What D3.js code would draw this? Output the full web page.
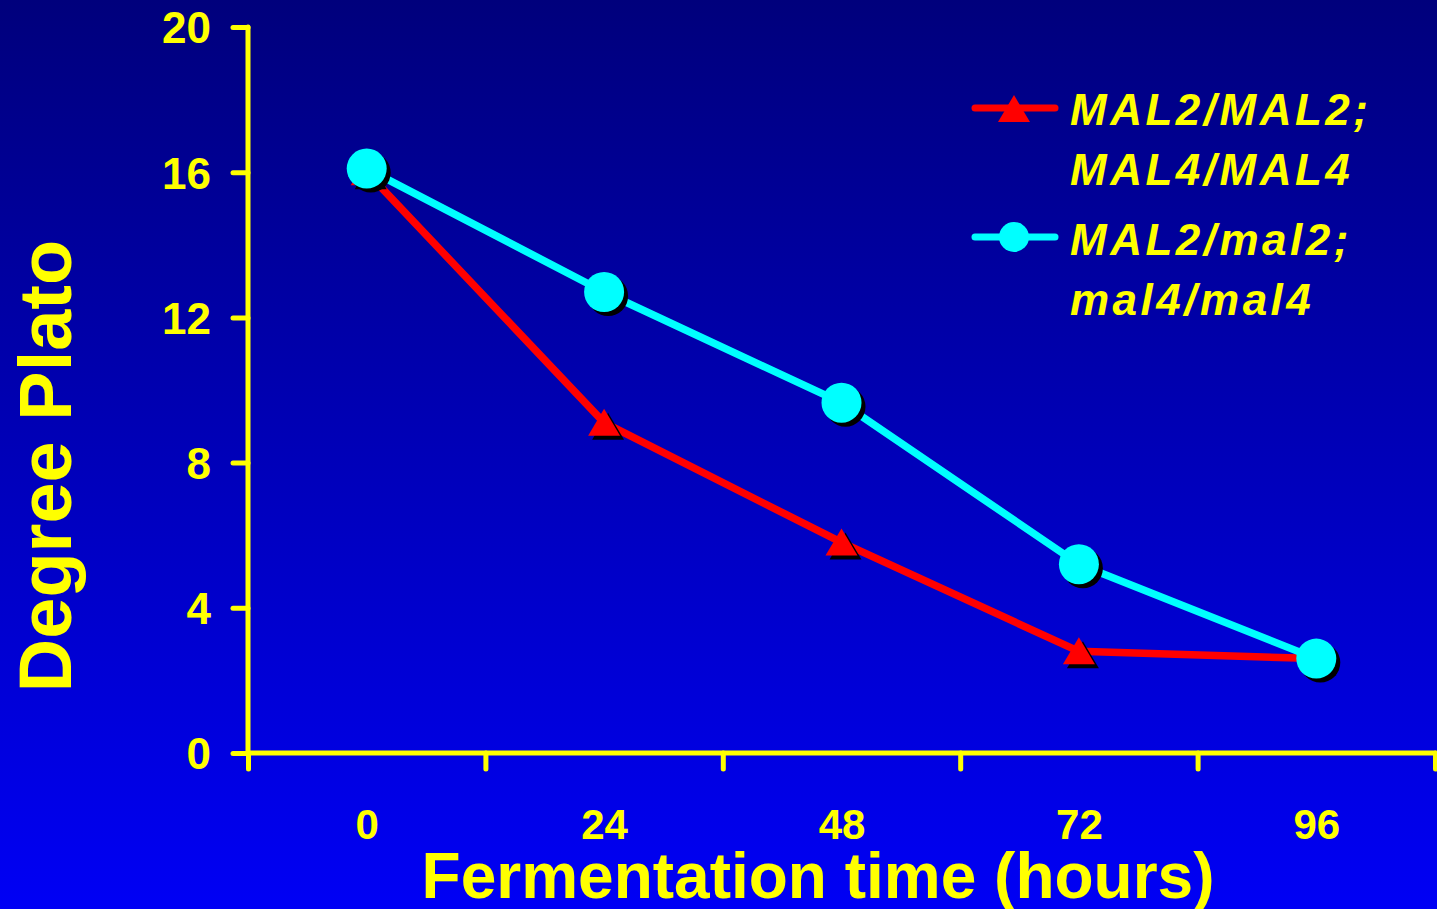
<!DOCTYPE html>
<html>
<head>
<meta charset="utf-8">
<script src="https://cdn.jsdelivr.net/npm/d3@7"></script>
<style>
  body { margin: 0; overflow: hidden; }
  svg { display: block; font-family: "Liberation Sans", Arial, sans-serif; }
</style>
</head>
<body>
<div id="chart"></div>
<script>
// data
const hours = [0, 24, 48, 72, 96];
const homozygous = [16.0, 9.1, 5.8, 2.8, 2.6];   // MAL2/MAL2; MAL4/MAL4
const heterozygous = [16.1, 12.7, 9.65, 5.2, 2.6]; // MAL2/mal2; mal4/mal4
const yTicks = [0, 4, 8, 12, 16, 20];
const xBoundaries = [-12, 12, 36, 60, 84, 108];

const width = 1437, height = 909;
const yellow = '#ffff00';

const svg = d3.select('#chart').append('svg')
    .attr('width', width)
    .attr('height', height);

// background gradient
const grad = svg.append('defs').append('linearGradient')
    .attr('id', 'bg').attr('x1', 0).attr('y1', 0).attr('x2', 0).attr('y2', 1);
grad.append('stop').attr('offset', '0%').attr('stop-color', '#00007c');
grad.append('stop').attr('offset', '100%').attr('stop-color', '#0000f5');
svg.append('rect').attr('width', width).attr('height', height).attr('fill', 'url(#bg)');

const x = d3.scaleLinear().domain([-12, 108]).range([248, 1435]);
const y = d3.scaleLinear().domain([0, 20]).range([753, 27]);

// y axis
const yAxis = svg.append('g')
    .attr('transform', `translate(${x(-12)},0)`)
    .call(d3.axisLeft(y).tickValues(yTicks).tickSize(15).tickPadding(22).tickSizeOuter(0));
yAxis.select('.domain').remove();
yAxis.append('line')
    .attr('y1', y(20)).attr('y2', y(0))
    .attr('stroke', yellow).attr('stroke-width', 5).attr('stroke-linecap', 'round');
yAxis.selectAll('.tick line')
    .attr('stroke', yellow).attr('stroke-width', 5).attr('stroke-linecap', 'round');
yAxis.selectAll('.tick text')
    .attr('fill', yellow)
    .attr('font-size', 44)
    .attr('font-weight', 'bold')
    .attr('font-family', '"Liberation Sans", Arial, sans-serif')
    .attr('dy', '0.36em');

// x axis: tick marks between categories, labels centred on them
const xTickAxis = svg.append('g')
    .attr('transform', `translate(0,${y(0)})`)
    .call(d3.axisBottom(x).tickValues(xBoundaries).tickSize(16).tickFormat('').tickSizeOuter(0));
xTickAxis.select('.domain').remove();
xTickAxis.append('line')
    .attr('x1', x(-12)).attr('x2', x(108))
    .attr('stroke', yellow).attr('stroke-width', 5).attr('stroke-linecap', 'round');
xTickAxis.selectAll('.tick line')
    .attr('stroke', yellow).attr('stroke-width', 5).attr('stroke-linecap', 'round');

const xLabelAxis = svg.append('g')
    .attr('transform', `translate(0,${y(0)})`)
    .call(d3.axisBottom(x).tickValues(hours).tickSize(0).tickPadding(0));
xLabelAxis.select('.domain').remove();
xLabelAxis.selectAll('.tick text')
    .attr('fill', yellow)
    .attr('font-size', 42)
    .attr('font-weight', 'bold')
    .attr('font-family', '"Liberation Sans", Arial, sans-serif')
    .attr('y', 86)
    .attr('dy', 0);

// axis titles
svg.append('text')
    .attr('x', 818).attr('y', 898)
    .attr('text-anchor', 'middle')
    .attr('fill', yellow)
    .attr('font-size', 64)
    .attr('font-weight', 'bold')
    .text('Fermentation time (hours)');

svg.append('text')
    .attr('transform', `translate(71,466) rotate(-90)`)
    .attr('text-anchor', 'middle')
    .attr('fill', yellow)
    .attr('font-size', 74)
    .attr('font-weight', 'bold')
    .text('Degree Plato');

// series
const line = d3.line().x(d => x(d[0])).y(d => y(d[1]));
const triangle = 'M0,-14L16,13L-16,13Z';

function drawSeries(values, color, marker) {
    const pts = hours.map((h, i) => [h, values[i]]);
    const g = svg.append('g');
    g.append('path')
        .datum(pts)
        .attr('d', line)
        .attr('fill', 'none')
        .attr('stroke', color)
        .attr('stroke-width', 7.5)
        .attr('stroke-linejoin', 'round');
    [['#000', 4], [color, 0]].forEach(([fill, off]) => {
        const sel = g.selectAll(null).data(pts);
        if (marker === 'circle') {
            sel.join('circle')
                .attr('cx', d => x(d[0]) + off)
                .attr('cy', d => y(d[1]) + off)
                .attr('r', 20)
                .attr('fill', fill);
        } else {
            sel.join('path')
                .attr('d', triangle)
                .attr('transform', d => `translate(${x(d[0]) + off},${y(d[1]) + off})`)
                .attr('fill', fill);
        }
    });
}

drawSeries(homozygous, '#ff0000', 'triangle');
drawSeries(heterozygous, '#00ffff', 'circle');

// legend
const legendItems = [
    {lines: ['MAL2/MAL2;', 'MAL4/MAL4'], color: '#ff0000', marker: 'triangle', y: 108, base: [125, 185]},
    {lines: ['MAL2/mal2;', 'mal4/mal4'], color: '#00ffff', marker: 'circle', y: 237, base: [255, 315]}
];
const legend = svg.append('g');
legendItems.forEach(item => {
    legend.append('line')
        .attr('x1', 975).attr('x2', 1055)
        .attr('y1', item.y).attr('y2', item.y)
        .attr('stroke', item.color).attr('stroke-width', 7).attr('stroke-linecap', 'round');
    if (item.marker === 'circle') {
        legend.append('circle').attr('cx', 1014).attr('cy', item.y).attr('r', 15).attr('fill', item.color);
    } else {
        legend.append('path').attr('d', triangle)
            .attr('transform', `translate(1014,${item.y + 1})`).attr('fill', item.color);
    }
    item.lines.forEach((t, i) => {
        legend.append('text')
            .attr('x', 1070).attr('y', item.base[i])
            .attr('fill', yellow)
            .attr('font-size', 44)
            .attr('font-weight', 'bold')
            .attr('font-style', 'italic')
            .attr('letter-spacing', 3.5)
            .text(t);
    });
});
</script>
</body>
</html>
